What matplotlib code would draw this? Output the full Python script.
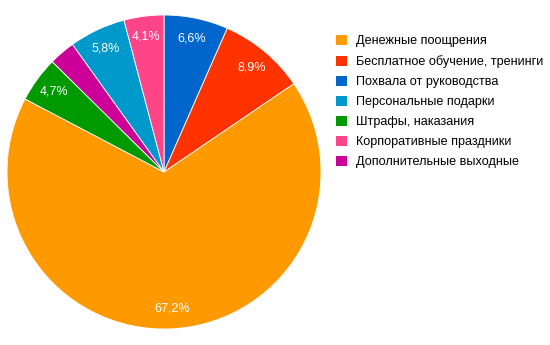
import matplotlib.pyplot as plt
from matplotlib.patches import Patch

plt.rcParams['font.family'] = ['Liberation Sans', 'DejaVu Sans']

# slices in drawing order (clockwise from top)
labels = ['Похвала от руководства', 'Бесплатное обучение, тренинги', 'Денежные поощрения',
          'Штрафы, наказания', 'Дополнительные выходные', 'Персональные подарки',
          'Корпоративные праздники']
values = [6.6, 8.9, 67.2, 4.7, 2.7, 5.8, 4.1]
colors = ['#0066cc', '#ff3300', '#ff9900', '#009900', '#cc0099', '#0099cc', '#ff4488']

# legend order
legend_order = ['Денежные поощрения', 'Бесплатное обучение, тренинги', 'Похвала от руководства',
                'Персональные подарки', 'Штрафы, наказания', 'Корпоративные праздники',
                'Дополнительные выходные']

def fmt(p):
    if p < 3.5:
        return ''
    return f'{p:.1f}'.replace('.', ',') + '%'

fig = plt.figure(figsize=(5.5, 3.45), dpi=100)
ax = fig.add_axes([7 / 550, 16 / 345, 314 / 550, 314 / 345])
wedges, texts, autotexts = ax.pie(values, colors=colors, startangle=90, counterclock=False,
                                  autopct=fmt, pctdistance=0.87, radius=1,
                                  wedgeprops={'edgecolor': 'white', 'linewidth': 0.6},
                                  textprops={'color': 'white', 'fontsize': 9})
ax.set_xlim(-1, 1)
ax.set_ylim(-1, 1)
ax.set_aspect('equal')
ax.axis('off')

cmap = dict(zip(labels, colors))
handles = [Patch(facecolor=cmap[l], edgecolor='none', label=l) for l in legend_order]
fig.legend(handles=handles, loc='upper left', bbox_to_anchor=(336 / 550, 1 - 35 / 345),
           frameon=False, fontsize=9.1, handlelength=0.85, handleheight=0.85,
           handletextpad=0.7, labelspacing=0.6, borderaxespad=0, borderpad=0)

fig.savefig('out.png', dpi=100)
